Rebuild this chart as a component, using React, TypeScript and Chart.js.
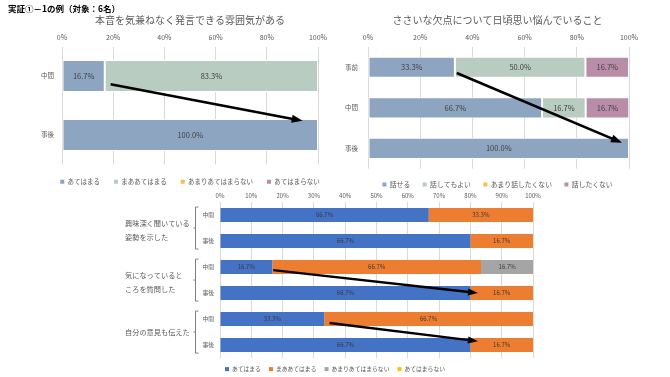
import React, { useEffect, useRef } from "react";
import { Chart, registerables } from "chart.js";

Chart.register(...registerables);

const FONT = "'Noto Sans CJK JP', 'Noto Sans', sans-serif";
Chart.defaults.font.family = FONT;

// ---------- data ----------
const mainTitle = "実証①－1の例（対象：6名）";

// chart 1
const c1Title = "本音を気兼ねなく発言できる雰囲気がある";
const c1Categories = ["中間", "事後"];
const c1Series = ["あてはまる", "まああてはまる", "あまりあてはまらない", "あてはまらない"];
const c1Apply = [16.7, 100];
const c1SomewhatApply = [83.3, 0];
const c1NotMuch = [0, 0];
const c1NotApply = [0, 0];
const c1Arrows = [{ from: [19, 0.14], to: [94, 0.76] }];

// chart 2
const c2Title = "ささいな欠点について日頃思い悩んでいること";
const c2Categories = ["事前", "中間", "事後"];
const c2Series = ["話せる", "話してもよい", "あまり話したくない", "話したくない"];
const c2CanTalk = [33.3, 66.7, 100];
const c2MayTalk = [50, 16.7, 0];
const c2RatherNot = [0, 0, 0];
const c2WontTalk = [16.7, 16.7, 0];
const c2Arrows = [{ from: [34, 0.14], to: [97.3, 1.86] }];

// chart 3
const c3Categories = ["中間", "事後", "中間", "事後", "中間", "事後"];
const c3Groups = [
  ["興味深く聞いている", "姿勢を示した"],
  ["気になっていると", "ころを質問した"],
  ["自分の意見も伝えた"],
];
const c3Series = ["あてはまる", "まああてはまる", "あまりあてはまらない", "あてはまらない"];
const c3Apply = [66.7, 80, 16.7, 80, 33.3, 80];
const c3ApplyLabels = ["66.7%", "66.7%", "16.7%", "66.7%", "33.3%", "66.7%"];
const c3Somewhat = [33.3, 20, 66.7, 20, 66.7, 20];
const c3SomewhatLabels = ["33.3%", "16.7%", "66.7%", "16.7%", "66.7%", "16.7%"];
const c3NotMuch = [0, 0, 16.7, 0, 0, 0];
const c3NotMuchLabels = ["", "", "16.7%", "", "", ""];
const c3NotApply = [0, 0, 0, 0, 0, 0];
const c3NotApplyLabels = ["", "", "", "", "", ""];
const c3Arrows = [
  { from: [17, 2.12], to: [82.4, 3.0] },
  { from: [35, 4.15], to: [82.4, 4.85] },
];

// ---------- styles ----------
const SOFT_BLUE = "#8EA5C1";
const SOFT_GREEN = "#B8CCC1";
const SOFT_YELLOW = "#F2C14E";
const SOFT_PINK = "#B98DA8";
const BLUE = "#4472C4";
const ORANGE = "#ED7D31";
const GRAY = "#A5A5A5";
const YELLOW = "#FFC000";
const TEXT = "#595959";
const GRID = "#D9D9D9";

// ---------- plugins ----------
function barLabelsPlugin(size: number, color: string) {
  return {
    id: "barLabels",
    afterDatasetsDraw(chart: any) {
      const ctx = chart.ctx;
      ctx.save();
      ctx.font = `${size}px ${FONT}`;
      ctx.fillStyle = color;
      ctx.textAlign = "center";
      ctx.textBaseline = "middle";
      chart.data.datasets.forEach((ds: any, di: number) => {
        const meta = chart.getDatasetMeta(di);
        meta.data.forEach((bar: any, i: number) => {
          const v = ds.data[i];
          if (!v) return;
          const text = ds.valueLabels ? ds.valueLabels[i] : v.toFixed(1) + "%";
          if (!text) return;
          const p = bar.getProps(["x", "y", "base"], true);
          ctx.fillText(text, (p.x + p.base) / 2, p.y);
        });
      });
      ctx.restore();
    },
  };
}

function arrowsPlugin(list: { from: number[]; to: number[] }[], width: number, head: number, headW: number) {
  return {
    id: "arrows",
    afterDatasetsDraw(chart: any) {
      const ctx = chart.ctx;
      const xs = chart.scales.x;
      const ys = chart.scales.y;
      ctx.save();
      ctx.strokeStyle = "#000";
      ctx.fillStyle = "#000";
      ctx.lineWidth = width;
      ctx.lineCap = "butt";
      list.forEach((a) => {
        const x1 = xs.getPixelForValue(a.from[0]);
        const y1 = ys.getPixelForValue(a.from[1]);
        const x2 = xs.getPixelForValue(a.to[0]);
        const y2 = ys.getPixelForValue(a.to[1]);
        const ang = Math.atan2(y2 - y1, x2 - x1);
        const c = Math.cos(ang);
        const s = Math.sin(ang);
        const bx = x2 - head * c;
        const by = y2 - head * s;
        ctx.beginPath();
        ctx.moveTo(x1, y1);
        ctx.lineTo(bx + c, by + s);
        ctx.stroke();
        ctx.beginPath();
        ctx.moveTo(x2, y2);
        ctx.lineTo(bx + (headW / 2) * s, by - (headW / 2) * c);
        ctx.lineTo(bx - (headW / 2) * s, by + (headW / 2) * c);
        ctx.closePath();
        ctx.fill();
      });
      ctx.restore();
    },
  };
}

function groupsPlugin(groups: string[][], textX: number, bracketX: number) {
  return {
    id: "groups",
    afterDraw(chart: any) {
      const ctx = chart.ctx;
      const ys = chart.scales.y;
      ctx.save();
      ctx.font = `7.2px ${FONT}`;
      ctx.fillStyle = TEXT;
      ctx.textAlign = "left";
      ctx.textBaseline = "middle";
      ctx.strokeStyle = "#808080";
      ctx.lineWidth = 1;
      groups.forEach((g, gi) => {
        const yTop = ys.getPixelForValue(gi * 2) - 8;
        const yBot = ys.getPixelForValue(gi * 2 + 1) + 8;
        const yMid = (yTop + yBot) / 2;
        ctx.beginPath();
        ctx.moveTo(bracketX + 3, yTop);
        ctx.lineTo(bracketX, yTop);
        ctx.lineTo(bracketX, yBot);
        ctx.lineTo(bracketX + 3, yBot);
        ctx.moveTo(bracketX, yMid);
        ctx.lineTo(bracketX - 2, yMid);
        ctx.stroke();
        const n = g.length;
        g.forEach((line, k) => {
          const off = n > 1 ? (k - (n - 1) / 2) * 14 + 2 : 0;
          ctx.fillText(line, textX, yMid + off);
        });
      });
      ctx.restore();
    },
  };
}

// ---------- config builder ----------
type Opts = {
  categories: string[];
  datasets: any[];
  title?: string;
  padding: { left: number; right: number; top: number; bottom: number };
  extraRight: number;
  titlePadTop?: number;
  xHeight: number;
  yWidth: number;
  tickSize: number;
  tickPad: number;
  catSize: number;
  catPad: number;
  step: number;
  barPct: number;
  legendSize: number;
  legendPad: number;
  plugins: any[];
};

function buildConfig(o: Opts): any {
  return {
    type: "bar",
    data: { labels: o.categories, datasets: o.datasets },
    plugins: o.plugins,
    options: {
      indexAxis: "y",
      responsive: false,
      animation: false,
      events: [],
      devicePixelRatio: 1,
      layout: { padding: o.padding },
      datasets: {
        bar: { categoryPercentage: 1, barPercentage: o.barPct },
      },
      scales: {
        x: {
          type: "linear",
          position: "top",
          stacked: true,
          min: 0,
          max: 100,
          ticks: {
            stepSize: o.step,
            callback: (v: any) => v + "%",
            font: { size: o.tickSize },
            color: TEXT,
            padding: o.tickPad,
            maxRotation: 0,
            autoSkip: false,
          },
          grid: { color: GRID, drawTicks: false, lineWidth: 1 },
          border: { display: false },
          afterFit: (s: any) => {
            s.height = o.xHeight;
            s.paddingLeft = 0;
            s.paddingRight = o.extraRight;
          },
        },
        y: {
          type: "category",
          stacked: true,
          ticks: { font: { size: o.catSize }, color: TEXT, padding: o.catPad },
          grid: { display: false, drawTicks: false },
          border: { display: false },
          afterFit: (s: any) => {
            s.width = o.yWidth;
            s.paddingTop = 0;
            s.paddingBottom = 0;
          },
        },
      },
      plugins: {
        tooltip: { enabled: false },
        title: o.title
          ? {
              display: true,
              text: o.title,
              color: TEXT,
              font: { size: 10, weight: "normal" },
              padding: { top: o.titlePadTop ?? 14, bottom: 0 },
            }
          : { display: false },
        legend: {
          display: true,
          position: "bottom",
          labels: {
            boxWidth: 4,
            boxHeight: 4,
            font: { size: o.legendSize },
            color: TEXT,
            padding: o.legendPad,
            generateLabels: (chart: any) =>
              Chart.defaults.plugins.legend.labels
                .generateLabels(chart)
                .map((l: any) => ({ ...l, lineWidth: 0 })),
          },
        },
      },
    },
  };
}

function softDataset(label: string, data: number[], color: string) {
  return {
    label,
    data,
    backgroundColor: color,
    borderColor: "#FFFFFF",
    borderWidth: 1,
    borderSkipped: false,
  };
}

function solidDataset(label: string, data: number[], color: string, labels: string[]) {
  return { label, data, backgroundColor: color, borderWidth: 0, valueLabels: labels };
}

function config1() {
  return buildConfig({
    categories: c1Categories,
    datasets: [
      softDataset(c1Series[0], c1Apply, SOFT_BLUE),
      softDataset(c1Series[1], c1SomewhatApply, SOFT_GREEN),
      softDataset(c1Series[2], c1NotMuch, SOFT_YELLOW),
      softDataset(c1Series[3], c1NotApply, SOFT_PINK),
    ],
    title: c1Title,
    padding: { left: 40, right: 0, top: 0, bottom: 0 },
    extraRight: 22,
    xHeight: 20.5,
    yWidth: 22,
    tickSize: 7,
    tickPad: 5,
    catSize: 6.5,
    catPad: 8,
    step: 20,
    barPct: 0.54,
    legendSize: 6.5,
    legendPad: 14,
    plugins: [barLabelsPlugin(7.5, "#404040"), arrowsPlugin(c1Arrows, 2.6, 11, 8)],
  });
}

function config2() {
  return buildConfig({
    categories: c2Categories,
    datasets: [
      softDataset(c2Series[0], c2CanTalk, SOFT_BLUE),
      softDataset(c2Series[1], c2MayTalk, SOFT_GREEN),
      softDataset(c2Series[2], c2RatherNot, SOFT_YELLOW),
      softDataset(c2Series[3], c2WontTalk, SOFT_PINK),
    ],
    title: c2Title,
    padding: { left: 8, right: 18, top: 0, bottom: 0 },
    extraRight: 41,
    xHeight: 21,
    yWidth: 25,
    tickSize: 7,
    tickPad: 5,
    catSize: 6.5,
    catPad: 10,
    step: 20,
    barPct: 0.52,
    legendSize: 6.8,
    legendPad: 12.5,
    plugins: [barLabelsPlugin(7.5, "#404040"), arrowsPlugin(c2Arrows, 2.6, 11, 8)],
  });
}

function config3() {
  return buildConfig({
    categories: c3Categories,
    datasets: [
      solidDataset(c3Series[0], c3Apply, BLUE, c3ApplyLabels),
      solidDataset(c3Series[1], c3Somewhat, ORANGE, c3SomewhatLabels),
      solidDataset(c3Series[2], c3NotMuch, GRAY, c3NotMuchLabels),
      solidDataset(c3Series[3], c3NotApply, YELLOW, c3NotApplyLabels),
    ],
    padding: { left: 37, right: 37, top: 0, bottom: 0 },
    extraRight: 0,
    xHeight: 17,
    yWidth: 83,
    tickSize: 6,
    tickPad: 2.4,
    catSize: 5.8,
    catPad: 6,
    step: 10,
    barPct: 0.54,
    legendSize: 5.8,
    legendPad: 8.1,
    plugins: [
      barLabelsPlugin(6, "#3A3A3A"),
      arrowsPlugin(c3Arrows, 2.4, 10, 7),
      groupsPlugin(c3Groups, 25, 95.5),
    ],
  });
}

// ---------- components ----------
function ChartBox(props: { left: number; top: number; width: number; height: number; make: () => any }) {
  const ref = useRef<HTMLCanvasElement>(null);
  useEffect(() => {
    const chart = new Chart(ref.current as HTMLCanvasElement, props.make());
    return () => chart.destroy();
  }, []);
  return (
    <canvas
      ref={ref}
      width={props.width}
      height={props.height}
      style={{
        position: "absolute",
        left: props.left,
        top: props.top,
        width: props.width,
        height: props.height,
      }}
    />
  );
}

export default function App() {
  return (
    <div
      style={{
        position: "absolute",
        left: 0,
        top: 0,
        width: 670,
        height: 377,
        overflow: "hidden",
        background: "#FFFFFF",
      }}
    >
      <ChartBox left={335} top={0} width={335} height={198} make={config2} />
      <ChartBox left={0} top={0} width={340} height={195} make={config1} />
      <ChartBox left={100} top={185} width={470} height={197} make={config3} />
      <div
        style={{
          position: "absolute",
          left: 8,
          top: 3,
          fontFamily: FONT,
          fontSize: 8.5,
          fontWeight: "bold",
          lineHeight: "10px",
          color: "#000",
          whiteSpace: "nowrap",
        }}
      >
        {mainTitle}
      </div>
    </div>
  );
}
